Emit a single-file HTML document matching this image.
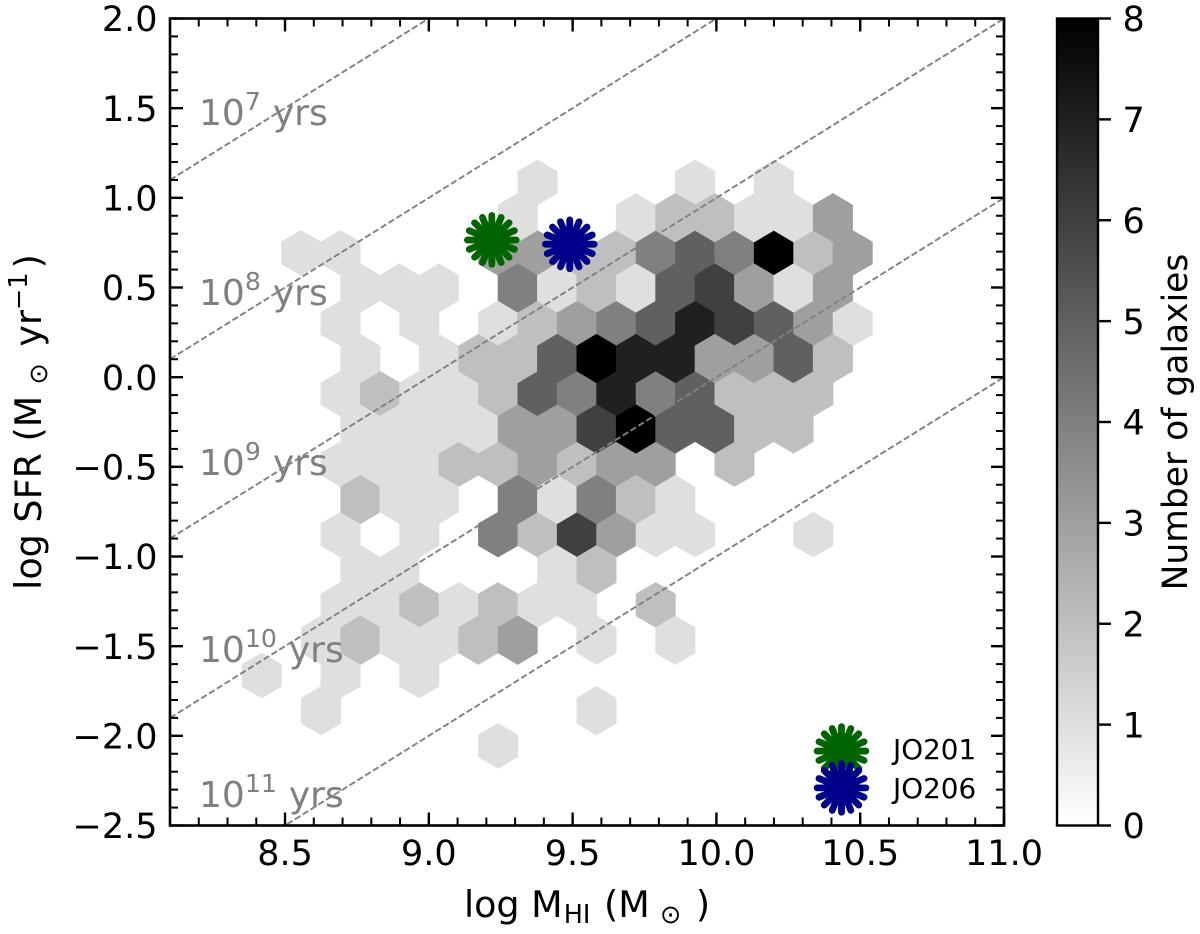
<!DOCTYPE html>
<html lang="en">
<head>
<meta charset="utf-8">
<title>log SFR vs log MHI hexbin</title>
<style>
html,body{margin:0;padding:0;background:#fff;}
svg{display:block;font-family:"DejaVu Sans","Liberation Sans",sans-serif;}
</style>
</head>
<body>
<svg id="chart" width="1200" height="934" viewBox="0 0 1200 934" xmlns="http://www.w3.org/2000/svg">
  <defs>
    <linearGradient id="cbar-gradient" x1="0" y1="1" x2="0" y2="0">
      <stop offset="0" stop-color="#ffffff"/>
      <stop offset="1" stop-color="#000000"/>
    </linearGradient>
    <clipPath id="plot-clip"><rect x="170" y="18.5" width="834" height="807"/></clipPath>
  </defs>
  <rect x="0" y="0" width="1200" height="934" fill="#ffffff"/>
  <g id="hexes-even" clip-path="url(#plot-clip)"></g>
  <g id="hexes-odd" clip-path="url(#plot-clip)"></g>
  <g id="age-lines" clip-path="url(#plot-clip)"></g>
  <g id="age-labels" font-size="36" fill="#808080"></g>
  <g id="stars"></g>
  <g id="ticks"></g>
  <rect x="170" y="18.5" width="834" height="807" fill="none" stroke="#000" stroke-width="2.6"/>
  <text x="893" y="759" font-size="27.8" fill="#000">JO201</text>
  <text x="893" y="798" font-size="27.8" fill="#000">JO206</text>
  <text x="587" y="917" font-size="36.5" text-anchor="middle" fill="#000">log M<tspan font-size="25.5" dy="6" dx="1">HI</tspan><tspan dy="-6" dx="2"> (M</tspan><tspan font-size="25.5" dy="6" dx="2"> ⊙</tspan><tspan dy="-6" dx="3"> )</tspan></text>
  <text transform="translate(41,422) rotate(-90)" x="0" y="0" font-size="36.5" text-anchor="middle" fill="#000">log SFR (M<tspan font-size="25.5" dy="6" dx="3"> ⊙</tspan><tspan dy="-6" dx="5"> yr</tspan><tspan font-size="25.5" dy="-14">−1</tspan><tspan dy="14" dx="4">)</tspan></text>
  <rect x="1057" y="18.5" width="41" height="807" fill="url(#cbar-gradient)" stroke="#000" stroke-width="2.4"/>
  <g id="cbar-ticks"></g>
  <text transform="translate(1187,422) rotate(-90)" x="0" y="0" font-size="34.5" text-anchor="middle" fill="#000">Number of galaxies</text>
</svg>
<script>
// ---- chart data ----
const logSfrRows = [1.086, 0.889, 0.693, 0.497, 0.300, 0.104, -0.092, -0.289, -0.485, -0.682, -0.878, -1.074, -1.270, -1.467, -1.663, -1.860, -2.056];
const logMRows = [
  [9.378, 9.926, 10.200],
  [9.309, 9.720, 9.857, 9.994, 10.131, 10.268, 10.405],
  [8.556, 8.693, 9.241, 9.378, 9.515, 9.652, 9.789, 9.926, 10.063, 10.200, 10.337, 10.474],
  [8.762, 8.898, 9.035, 9.309, 9.446, 9.583, 9.720, 9.857, 9.994, 10.131, 10.268, 10.405],
  [8.693, 8.967, 9.241, 9.378, 9.515, 9.652, 9.789, 9.926, 10.063, 10.200, 10.337, 10.474],
  [8.762, 9.035, 9.172, 9.309, 9.446, 9.583, 9.720, 9.857, 9.994, 10.131, 10.268, 10.405],
  [8.693, 8.830, 8.967, 9.104, 9.241, 9.378, 9.515, 9.652, 9.789, 9.926, 10.063, 10.200, 10.337],
  [8.762, 8.898, 9.035, 9.172, 9.309, 9.446, 9.583, 9.720, 9.857, 9.994, 10.131, 10.268],
  [8.693, 8.830, 8.967, 9.104, 9.241, 9.378, 9.515, 9.652, 9.789, 10.063],
  [8.762, 8.898, 9.035, 9.309, 9.446, 9.583, 9.720, 9.857],
  [8.693, 8.967, 9.241, 9.378, 9.515, 9.652, 9.789, 9.926, 10.337],
  [8.762, 8.898, 9.446, 9.583],
  [8.693, 8.830, 8.967, 9.104, 9.241, 9.378, 9.515, 9.789],
  [8.625, 8.762, 8.898, 9.035, 9.172, 9.309, 9.583, 9.857],
  [8.419, 8.693, 8.967],
  [8.625, 9.583],
  [9.241]
];
const countRows = [
  [1, 1, 1],
  [1, 1, 2, 2, 1, 1, 3],
  [1, 1, 3, 3, 2, 2, 4, 5, 4, 8, 2, 3],
  [1, 1, 1, 4, 1, 2, 1, 5, 6, 3, 1, 3],
  [1, 1, 1, 2, 3, 4, 5, 7, 6, 5, 3, 1],
  [1, 1, 2, 2, 5, 8, 7, 7, 3, 3, 5, 2],
  [1, 2, 1, 1, 2, 5, 4, 7, 4, 5, 2, 2, 2],
  [1, 1, 1, 1, 3, 3, 6, 8, 5, 5, 2, 2],
  [1, 1, 1, 2, 2, 3, 2, 3, 3, 2],
  [2, 1, 1, 4, 1, 4, 2, 1],
  [1, 1, 4, 2, 6, 3, 1, 1, 1],
  [1, 1, 1, 2],
  [1, 1, 2, 1, 2, 1, 1, 2],
  [1, 2, 1, 1, 2, 3, 1, 1],
  [1, 1, 1],
  [1, 1],
  [1]
];
const depletionExponents = [7, 8, 9, 10, 11];
const labelYears = ["7", "8", "9", "10", "11"];
const labelLogSfr = [1.473, 0.469, -0.478, -1.521, -2.33];
const markerNames = ["JO201", "JO206", "JO201", "JO206"];
const markerLogM = [9.219, 9.490, 10.435, 10.435];
const markerLogSfr = [0.765, 0.741, -2.085, -2.29];
const markerColors = ["#006400", "#00008b", "#006400", "#00008b"];
const xTickValues = [8.5, 9.0, 9.5, 10.0, 10.5, 11.0];
const xTickLabels = ["8.5", "9.0", "9.5", "10.0", "10.5", "11.0"];
const yTickValues = [2.0, 1.5, 1.0, 0.5, 0.0, -0.5, -1.0, -1.5, -2.0, -2.5];
const yTickLabels = ["2.0", "1.5", "1.0", "0.5", "0.0", "−0.5", "−1.0", "−1.5", "−2.0", "−2.5"];
const cbarTickValues = [0, 1, 2, 3, 4, 5, 6, 7, 8];
const xDomain = [8.1, 11.0];
const yDomain = [-2.5, 2.0];
const cbarDomain = [0, 8];

// ---- axis functions ----
function xScale(v) { return 170 + (v - xDomain[0]) / (xDomain[1] - xDomain[0]) * 834; }
function yScale(v) { return 825.5 - (v - yDomain[0]) / (yDomain[1] - yDomain[0]) * 807; }
function cbarScale(v) { return 825.5 - (v - cbarDomain[0]) / (cbarDomain[1] - cbarDomain[0]) * 807; }
function grayFor(c) {
  const g = Math.round(255 * (1 - c / cbarDomain[1]));
  return "rgb(" + g + "," + g + "," + g + ")";
}
const NS = "http://www.w3.org/2000/svg";
function mk(tag, parent) {
  const el = document.createElementNS(NS, tag);
  parent.appendChild(el);
  return el;
}

// ---- hexbin ----
const hexHalfWidth = 19.7;
const evenRoot = document.getElementById("hexes-even");
const oddRoot = document.getElementById("hexes-odd");
logSfrRows.forEach(function (sfr, r) {
  const isOdd = r % 2 === 1;
  const tip = isOdd ? 24.3 : 22.4;
  const shoulder = isOdd ? 12.6 : 11;
  logMRows[r].forEach(function (m, i) {
    const cx = xScale(m), cy = yScale(sfr), c = countRows[r][i];
    const poly = mk("polygon", isOdd ? oddRoot : evenRoot);
    
    
    poly.setAttribute("points", [
      [cx, cy - tip], [cx + hexHalfWidth, cy - shoulder], [cx + hexHalfWidth, cy + shoulder],
      [cx, cy + tip], [cx - hexHalfWidth, cy + shoulder], [cx - hexHalfWidth, cy - shoulder]
    ].map(function (p) { return p[0].toFixed(1) + "," + p[1].toFixed(1); }).join(" "));
    poly.setAttribute("fill", grayFor(c));
    poly.setAttribute("stroke", grayFor(c));
    poly.setAttribute("stroke-width", "0.6");
  });
});

// ---- constant depletion-time lines ----
const lineRoot = document.getElementById("age-lines");
depletionExponents.forEach(function (t) {
  const line = mk("line", lineRoot);
  
  
  line.setAttribute("x1", xScale(xDomain[0]));
  line.setAttribute("y1", yScale(xDomain[0] - t));
  line.setAttribute("x2", xScale(xDomain[1]));
  line.setAttribute("y2", yScale(xDomain[1] - t));
  line.setAttribute("stroke", "#808080");
  line.setAttribute("stroke-width", "1.9");
  line.setAttribute("stroke-dasharray", "6.4 2.8");
});

const ageRoot = document.getElementById("age-labels");
labelYears.forEach(function (exp, i) {
  const txt = mk("text", ageRoot);
  
  
  txt.setAttribute("x", 199);
  txt.setAttribute("y", yScale(labelLogSfr[i]) + 12);
  const a = mk("tspan", txt);
  a.textContent = "10";
  const b = mk("tspan", txt);
  b.setAttribute("font-size", "25.2");
  b.setAttribute("dy", "-15");
  b.textContent = exp;
  const c = mk("tspan", txt);
  c.setAttribute("dy", "15");
  c.setAttribute("dx", "12");
  c.textContent = "yrs";
});

// ---- star markers ----
const starRoot = document.getElementById("stars");
const spokeCount = 16;
markerNames.forEach(function (name, i) {
  const g = mk("g", starRoot);
  
  
  g.setAttribute("stroke", markerColors[i]);
  g.setAttribute("stroke-width", "6.8");
  g.setAttribute("stroke-linecap", "round");
  const cx = xScale(markerLogM[i]), cy = yScale(markerLogSfr[i]);
  for (let k = 0; k < spokeCount; k++) {
    const ang = k * 2 * Math.PI / spokeCount;
    const s = mk("line", g);
    s.setAttribute("x1", cx);
    s.setAttribute("y1", cy);
    s.setAttribute("x2", cx + 24.4 * Math.cos(ang));
    s.setAttribute("y2", cy + 24.4 * Math.sin(ang));
  }
});

// ---- ticks ----
const tickRoot = document.getElementById("ticks");
function tick(x1, y1, x2, y2, w, name) {
  const t = mk("line", tickRoot);
  
  
  t.setAttribute("x1", x1);
  t.setAttribute("y1", y1);
  t.setAttribute("x2", x2);
  t.setAttribute("y2", y2);
  t.setAttribute("stroke", "#000");
  t.setAttribute("stroke-width", w);
}
function minorTicks(domain, step) {
  const out = [];
  const n = Math.round((domain[1] - domain[0]) / step);
  for (let i = 1; i < n; i++) {
    out.push(domain[0] + i * step);
  }
  return out;
}
minorTicks(xDomain, 0.1).forEach(function (v) {
  const x = xScale(v);
  tick(x, 825.5, x, 817.5, 2, "x-minor-tick");
  tick(x, 18.5, x, 26.5, 2, "x-minor-tick-top");
});
minorTicks(yDomain, 0.1).forEach(function (v) {
  const y = yScale(v);
  tick(170, y, 178, y, 2, "y-minor-tick");
  tick(1004, y, 996, y, 2, "y-minor-tick-right");
});
xTickValues.forEach(function (v, i) {
  const x = xScale(v);
  tick(x, 825.5, x, 812.5, 2.4, "x-major-tick");
  tick(x, 18.5, x, 31.5, 2.4, "x-major-tick-top");
  const t = mk("text", tickRoot);
  
  
  t.setAttribute("x", x);
  t.setAttribute("y", 865);
  t.setAttribute("font-size", "35");
  t.setAttribute("text-anchor", "middle");
  t.textContent = xTickLabels[i];
});
yTickValues.forEach(function (v, i) {
  const y = yScale(v);
  tick(170, y, 183, y, 2.4, "y-major-tick");
  tick(1004, y, 991, y, 2.4, "y-major-tick-right");
  const t = mk("text", tickRoot);
  
  
  t.setAttribute("x", 157.5);
  t.setAttribute("y", y + 12.7);
  t.setAttribute("font-size", "35");
  t.setAttribute("text-anchor", "end");
  t.textContent = yTickLabels[i];
});

// ---- colorbar ticks ----
const cbarRoot = document.getElementById("cbar-ticks");
cbarTickValues.forEach(function (v) {
  const y = cbarScale(v);
  const l = mk("line", cbarRoot);
  
  
  l.setAttribute("x1", 1098);
  l.setAttribute("y1", y);
  l.setAttribute("x2", 1111);
  l.setAttribute("y2", y);
  l.setAttribute("stroke", "#000");
  l.setAttribute("stroke-width", "2.4");
  const t = mk("text", cbarRoot);
  
  
  t.setAttribute("x", 1122.5);
  t.setAttribute("y", y + 12.7);
  t.setAttribute("font-size", "35");
  t.textContent = String(v);
});
</script>
</body>
</html>
